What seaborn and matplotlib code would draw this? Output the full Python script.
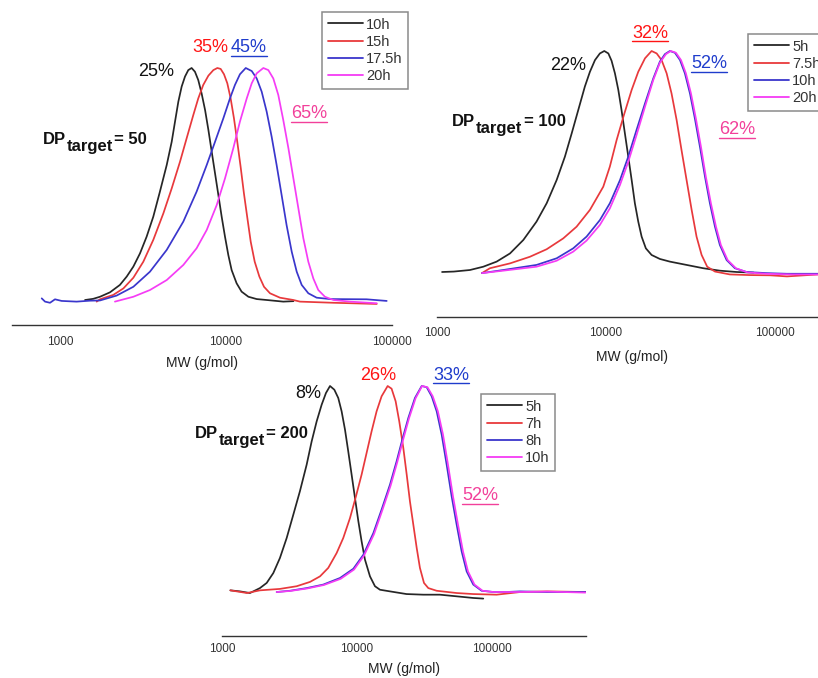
import numpy as np
import pandas as pd
import matplotlib
matplotlib.use("Agg")
import matplotlib.pyplot as plt
from matplotlib.lines import Line2D
from matplotlib.ticker import FixedLocator, LogLocator, NullFormatter, FuncFormatter
import seaborn as sns

sns.set_style("white")
plt.rcParams['font.family'] = ['Liberation Sans', 'DejaVu Sans']

# ---------------- data: log10(MW / g mol-1) and normalised RI signal ----------------
# Panel A: DP_target = 50
a_10h_logmw = [3.151, 3.200, 3.241, 3.301, 3.361, 3.402, 3.442, 3.482, 3.522, 3.562, 3.602, 3.643, 3.673, 3.693, 3.713, 3.733, 3.753, 3.773, 3.793, 3.813, 3.833, 3.853, 3.874, 3.894, 3.914, 3.934, 3.954, 3.974, 3.994, 4.014, 4.034, 4.064, 4.094, 4.135, 4.185, 4.245, 4.345, 4.406]
a_10h_sig = [0.0, 0.005, 0.014, 0.033, 0.065, 0.101, 0.144, 0.201, 0.273, 0.359, 0.467, 0.582, 0.682, 0.769, 0.855, 0.920, 0.963, 0.991, 1.0, 0.984, 0.948, 0.891, 0.819, 0.733, 0.639, 0.546, 0.453, 0.359, 0.273, 0.194, 0.129, 0.072, 0.036, 0.014, 0.004, 0.0, -0.007, -0.005]
a_15h_logmw = [3.221, 3.241, 3.321, 3.382, 3.442, 3.502, 3.562, 3.623, 3.673, 3.723, 3.763, 3.803, 3.833, 3.863, 3.894, 3.924, 3.948, 3.968, 3.988, 4.008, 4.028, 4.048, 4.068, 4.088, 4.108, 4.129, 4.149, 4.173, 4.201, 4.229, 4.265, 4.325, 4.406, 4.446, 4.647, 4.908]
a_15h_sig = [-0.007, 0.003, 0.022, 0.050, 0.096, 0.165, 0.259, 0.374, 0.481, 0.596, 0.697, 0.797, 0.869, 0.927, 0.967, 0.991, 1.0, 0.996, 0.973, 0.934, 0.869, 0.783, 0.682, 0.575, 0.460, 0.352, 0.251, 0.165, 0.101, 0.057, 0.029, 0.010, 0.0, -0.007, -0.012, -0.017]
a_175h_logmw = [2.890, 2.910, 2.940, 2.970, 3.010, 3.100, 3.180, 3.241, 3.341, 3.442, 3.542, 3.643, 3.743, 3.823, 3.884, 3.934, 3.984, 4.024, 4.054, 4.084, 4.119, 4.155, 4.185, 4.215, 4.245, 4.275, 4.305, 4.335, 4.365, 4.396, 4.426, 4.456, 4.496, 4.546, 4.627, 4.847, 4.968]
a_175h_sig = [0.007, -0.007, -0.012, 0.003, -0.004, -0.007, -0.003, -0.002, 0.019, 0.057, 0.122, 0.216, 0.338, 0.467, 0.582, 0.682, 0.783, 0.869, 0.927, 0.973, 1.0, 0.987, 0.955, 0.898, 0.812, 0.704, 0.582, 0.453, 0.323, 0.208, 0.122, 0.065, 0.029, 0.010, 0.004, 0.003, -0.004]
a_20h_logmw = [3.331, 3.442, 3.542, 3.643, 3.743, 3.823, 3.884, 3.944, 3.994, 4.044, 4.084, 4.125, 4.155, 4.185, 4.225, 4.255, 4.285, 4.315, 4.345, 4.376, 4.406, 4.436, 4.466, 4.496, 4.526, 4.556, 4.596, 4.647, 4.747, 4.908]
a_20h_sig = [-0.007, 0.014, 0.043, 0.086, 0.151, 0.223, 0.302, 0.409, 0.524, 0.654, 0.769, 0.869, 0.934, 0.977, 1.0, 0.991, 0.955, 0.884, 0.776, 0.654, 0.524, 0.395, 0.266, 0.165, 0.093, 0.043, 0.014, 0.0, -0.007, -0.014]

# Panel B: DP_target = 100
b_5h_logmw = [3.030, 3.100, 3.195, 3.274, 3.353, 3.432, 3.511, 3.589, 3.649, 3.708, 3.757, 3.797, 3.836, 3.875, 3.905, 3.935, 3.964, 3.990, 4.014, 4.033, 4.053, 4.073, 4.092, 4.112, 4.132, 4.152, 4.171, 4.191, 4.211, 4.236, 4.270, 4.319, 4.378, 4.477, 4.576, 4.674, 4.773, 4.874]
b_5h_sig = [0.0, 0.002, 0.009, 0.024, 0.047, 0.084, 0.145, 0.228, 0.311, 0.416, 0.522, 0.627, 0.733, 0.839, 0.906, 0.959, 0.989, 1.0, 0.989, 0.956, 0.899, 0.824, 0.733, 0.627, 0.522, 0.416, 0.311, 0.228, 0.160, 0.107, 0.077, 0.059, 0.047, 0.032, 0.017, 0.006, 0.0, -0.003]
b_75h_logmw = [3.266, 3.313, 3.432, 3.550, 3.649, 3.747, 3.826, 3.905, 3.984, 4.023, 4.063, 4.106, 4.152, 4.191, 4.231, 4.270, 4.300, 4.329, 4.359, 4.388, 4.418, 4.447, 4.477, 4.507, 4.536, 4.566, 4.599, 4.645, 4.733, 4.852, 4.972, 5.071, 5.256]
b_75h_sig = [-0.005, 0.017, 0.039, 0.069, 0.103, 0.152, 0.205, 0.281, 0.386, 0.477, 0.597, 0.710, 0.824, 0.906, 0.967, 1.0, 0.989, 0.959, 0.899, 0.808, 0.688, 0.552, 0.416, 0.281, 0.160, 0.077, 0.024, 0.002, -0.011, -0.014, -0.015, -0.020, -0.011]
b_10h_logmw = [3.266, 3.392, 3.589, 3.708, 3.806, 3.885, 3.964, 4.023, 4.083, 4.132, 4.181, 4.231, 4.280, 4.319, 4.349, 4.378, 4.408, 4.438, 4.467, 4.497, 4.526, 4.556, 4.586, 4.615, 4.645, 4.674, 4.714, 4.763, 4.832, 4.950, 5.071, 5.256]
b_10h_sig = [-0.005, 0.009, 0.032, 0.062, 0.107, 0.160, 0.235, 0.311, 0.416, 0.522, 0.643, 0.763, 0.876, 0.952, 0.986, 1.0, 0.992, 0.959, 0.899, 0.808, 0.695, 0.567, 0.431, 0.311, 0.205, 0.122, 0.054, 0.017, 0.0, -0.005, -0.008, -0.008]
b_20h_logmw = [3.266, 3.392, 3.589, 3.708, 3.806, 3.885, 3.964, 4.023, 4.083, 4.132, 4.181, 4.231, 4.280, 4.319, 4.355, 4.384, 4.414, 4.444, 4.473, 4.503, 4.532, 4.562, 4.591, 4.621, 4.651, 4.680, 4.720, 4.769, 4.838, 4.950, 5.100, 5.256]
b_20h_sig = [-0.005, 0.006, 0.024, 0.051, 0.092, 0.142, 0.213, 0.288, 0.394, 0.499, 0.620, 0.748, 0.869, 0.947, 0.986, 1.0, 0.992, 0.959, 0.899, 0.808, 0.695, 0.567, 0.431, 0.311, 0.205, 0.122, 0.054, 0.017, -0.002, -0.008, -0.011, -0.011]

# Panel C: DP_target = 200
c_5h_logmw = [3.062, 3.133, 3.207, 3.281, 3.331, 3.380, 3.429, 3.479, 3.528, 3.577, 3.627, 3.664, 3.701, 3.738, 3.770, 3.800, 3.832, 3.861, 3.886, 3.911, 3.935, 3.960, 3.985, 4.010, 4.034, 4.059, 4.096, 4.133, 4.170, 4.244, 4.367, 4.491, 4.614, 4.738, 4.861, 4.935]
c_5h_sig = [0.008, 0.003, -0.005, 0.019, 0.044, 0.092, 0.165, 0.262, 0.375, 0.489, 0.618, 0.731, 0.828, 0.909, 0.966, 1.0, 0.982, 0.942, 0.877, 0.788, 0.683, 0.570, 0.456, 0.343, 0.246, 0.157, 0.076, 0.028, 0.011, 0.003, -0.010, -0.013, -0.013, -0.021, -0.029, -0.032]
c_7h_logmw = [3.062, 3.185, 3.281, 3.429, 3.553, 3.652, 3.726, 3.787, 3.849, 3.898, 3.948, 3.992, 4.034, 4.071, 4.108, 4.145, 4.182, 4.227, 4.256, 4.286, 4.313, 4.343, 4.368, 4.392, 4.417, 4.442, 4.466, 4.496, 4.528, 4.590, 4.738, 4.861, 5.034, 5.210, 5.407, 5.691]
c_7h_sig = [0.008, -0.005, 0.008, 0.015, 0.028, 0.049, 0.076, 0.117, 0.189, 0.262, 0.359, 0.464, 0.570, 0.675, 0.780, 0.877, 0.950, 1.0, 0.987, 0.926, 0.828, 0.699, 0.570, 0.440, 0.327, 0.214, 0.117, 0.044, 0.019, 0.006, -0.005, -0.010, -0.013, 0.0, 0.003, 0.0]
c_8h_logmw = [3.405, 3.503, 3.627, 3.750, 3.874, 3.973, 4.047, 4.121, 4.182, 4.244, 4.293, 4.335, 4.380, 4.429, 4.479, 4.516, 4.553, 4.590, 4.627, 4.664, 4.701, 4.738, 4.775, 4.812, 4.861, 4.923, 5.010, 5.108, 5.207, 5.407, 5.691]
c_8h_sig = [0.0, 0.006, 0.019, 0.036, 0.068, 0.113, 0.181, 0.286, 0.400, 0.521, 0.634, 0.739, 0.845, 0.942, 1.0, 0.994, 0.950, 0.877, 0.764, 0.618, 0.464, 0.327, 0.197, 0.100, 0.036, 0.006, 0.0, 0.0, 0.003, 0.0, 0.0]
c_10h_logmw = [3.405, 3.505, 3.630, 3.755, 3.879, 3.978, 4.052, 4.126, 4.187, 4.249, 4.298, 4.340, 4.385, 4.434, 4.482, 4.522, 4.561, 4.599, 4.637, 4.674, 4.711, 4.748, 4.785, 4.822, 4.870, 4.930, 5.010, 5.108, 5.207, 5.407, 5.691]
c_10h_sig = [0.0, 0.005, 0.017, 0.034, 0.064, 0.109, 0.177, 0.281, 0.396, 0.517, 0.630, 0.736, 0.843, 0.941, 1.0, 0.994, 0.950, 0.877, 0.764, 0.618, 0.464, 0.327, 0.197, 0.100, 0.036, 0.006, 0.0, 0.0, 0.0, 0.002, -0.003]

panels = [
    {"series": [("10h", a_10h_logmw, a_10h_sig), ("15h", a_15h_logmw, a_15h_sig),
                ("17.5h", a_175h_logmw, a_175h_sig), ("20h", a_20h_logmw, a_20h_sig)],
     "dp": "50",
     "pct": [("25%", False), ("35%", False), ("45%", True), ("65%", True)]},
    {"series": [("5h", b_5h_logmw, b_5h_sig), ("7.5h", b_75h_logmw, b_75h_sig),
                ("10h", b_10h_logmw, b_10h_sig), ("20h", b_20h_logmw, b_20h_sig)],
     "dp": "100",
     "pct": [("22%", False), ("32%", True), ("52%", True), ("62%", True)]},
    {"series": [("5h", c_5h_logmw, c_5h_sig), ("7h", c_7h_logmw, c_7h_sig),
                ("8h", c_8h_logmw, c_8h_sig), ("10h", c_10h_logmw, c_10h_sig)],
     "dp": "200",
     "pct": [("8%", False), ("26%", False), ("33%", True), ("52%", True)]},
]

line_colors = ['#262626', '#e8393c', '#3a36cc', '#f53cf5']
text_colors = ['#111111', '#ff1414', '#1f3ccc', '#f2409a']

# ---------------- layout (pixels) ----------------
W, H = 818, 678
fig = plt.figure(figsize=(W / 100, H / 100), dpi=100)
renderer = fig.canvas.get_renderer()

layout = [
    dict(l=12, r=392, ax_y=325, base=300, peak=68, xlo=10 ** 2.711, xhi=1e5, tlen=5, pad=3, lpad=6),
    dict(l=437, r=827, ax_y=317, base=272, peak=51, xlo=1e3, xhi=10 ** 5.308, tlen=5, pad=2, lpad=8),
    dict(l=222, r=586, ax_y=636, base=592, peak=386, xlo=1e3, xhi=10 ** 5.696, tlen=4, pad=1, lpad=5),
]
legend_pos = [(322, 12), (748, 34), (481, 394)]
pct_pos = [
    [(156, 72), (210, 48), (249, 48), (309, 114)],
    [(568, 65), (650, 33), (709, 64), (737, 130)],
    [(308, 393), (378, 375), (451, 375), (480, 496)],
]
dp_pos = [(43, 139), (452, 121), (195, 433)]


def fx(px):
    return px / W


def fy(py):
    return 1 - py / H


underlined = []
for p, lay, lpos, ppos, dpos in zip(panels, layout, legend_pos, pct_pos, dp_pos):
    top = lay['peak'] - 20
    ax = fig.add_axes([fx(lay['l']), fy(lay['ax_y']),
                       (lay['r'] - lay['l']) / W, (lay['ax_y'] - top) / H])
    ax.patch.set_alpha(0)
    frames = []
    for name, lmw, s in p['series']:
        frames.append(pd.DataFrame({'time': name, 'MW': np.power(10.0, lmw), 'signal': s}))
    df = pd.concat(frames, ignore_index=True)
    order = [n for n, _, _ in p['series']]
    sns.lineplot(data=df, x='MW', y='signal', hue='time', hue_order=order,
                 palette=line_colors, estimator=None, sort=False, lw=1.25, ax=ax)
    ax.set_xscale('log')
    ax.set_xlim(lay['xlo'], lay['xhi'])
    unit = lay['base'] - lay['peak']
    ax.set_ylim(-(lay['ax_y'] - lay['base']) / unit, 1 + (lay['peak'] - top) / unit)
    for sp in ['left', 'top', 'right']:
        ax.spines[sp].set_visible(False)
    ax.spines['bottom'].set_color('#333333')
    ax.spines['bottom'].set_linewidth(1.0)
    ax.set_yticks([])
    ax.set_ylabel('')
    ax.xaxis.set_major_locator(FixedLocator([1e3, 1e4, 1e5]))
    ax.xaxis.set_major_formatter(FuncFormatter(lambda v, pos: f"{int(round(v))}"))
    ax.xaxis.set_minor_locator(LogLocator(base=10, subs=np.arange(2, 10)))
    ax.xaxis.set_minor_formatter(NullFormatter())
    ax.tick_params(axis='x', which='major', direction='out', length=lay['tlen'], width=0.9,
                   color='#333333', labelsize=8.5, labelcolor='#333333', pad=lay['pad'])
    ax.tick_params(axis='x', which='minor', direction='out', length=3, width=0.8,
                   color='#333333')
    ax.set_xlabel('MW (g/mol)', fontsize=10, color='#222222', labelpad=lay['lpad'])

    handles, labels = ax.get_legend_handles_labels()
    leg = ax.legend(handles, labels, loc='upper left',
                    bbox_to_anchor=(fx(lpos[0]), fy(lpos[1])),
                    bbox_transform=fig.transFigure, borderaxespad=0,
                    fontsize=10.5, labelspacing=0.22, handlelength=2.4,
                    handletextpad=0.25, borderpad=0.38, frameon=True,
                    fancybox=False, framealpha=1, edgecolor='#8a8a8a')
    leg.get_frame().set_linewidth(1.1)
    for t in leg.get_texts():
        t.set_color('#333333')
    for h in leg.get_lines():
        h.set_linewidth(1.3)

    for (txt, under), (x, y), c in zip(p['pct'], ppos, text_colors):
        t = fig.text(fx(x), fy(y), txt, color=c, fontsize=13, ha='center', va='center')
        if under:
            underlined.append((t, c))

    # "DP_target = N" built from three bold pieces (subscript nearly full size)
    x0, y0 = dpos
    t1 = fig.text(fx(x0), fy(y0), 'DP', fontsize=12, fontweight='bold',
                  ha='left', va='center', color='#111111')
    w1 = t1.get_window_extent(renderer=renderer).width
    t2 = fig.text(fx(x0 + w1 + 0.5), fy(y0 + 8), 'target', fontsize=12, fontweight='bold',
                  ha='left', va='center', color='#111111')
    w2 = t2.get_window_extent(renderer=renderer).width
    fig.text(fx(x0 + w1 + w2 + 2), fy(y0 + 1), '= ' + p['dp'], fontsize=12,
             fontweight='bold', ha='left', va='center', color='#111111')

# underline selected percentage labels
for t, c in underlined:
    bb = t.get_window_extent(renderer=renderer)
    yline = bb.y0 + 1.0
    fig.add_artist(Line2D([bb.x0 / W, bb.x1 / W], [yline / H, yline / H],
                          color=c, lw=1.0, transform=fig.transFigure))

fig.savefig('out.png', dpi=100)
